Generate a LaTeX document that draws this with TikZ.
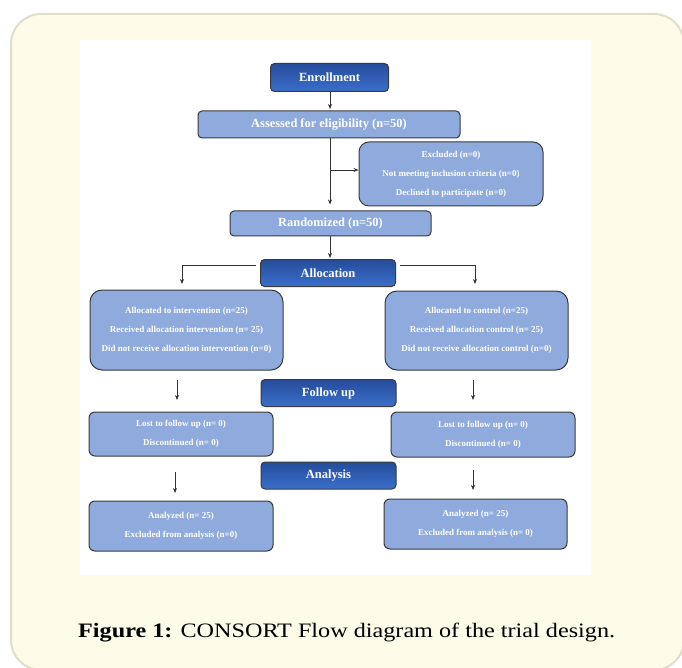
\documentclass[tikz,border=0pt]{standalone}
\usepackage{fontspec}
\setmainfont{Liberation Serif}
\newfontfamily\capfont[FakeStretch=1.18]{Liberation Serif}
\usetikzlibrary{arrows.meta}
\definecolor{cardfill}{HTML}{FEFBE9}
\definecolor{cardline}{HTML}{E0DDC8}
\definecolor{lightblue}{HTML}{8FAADC}
\definecolor{boxline}{HTML}{3A3A3A}
\definecolor{hdrtop}{HTML}{264C9B}
\definecolor{hdrbot}{HTML}{3A6FCB}
\definecolor{connc}{HTML}{333333}
\begin{document}
\begin{tikzpicture}[x=1pt,y=-1pt,
  sz/.style 2 args={minimum width=#1pt, minimum height=#2pt},
  hdr/.style={draw=boxline, line width=1pt, rounded corners=4pt, top color=hdrtop, bottom color=hdrbot, text=white, font=\fontsize{12.5}{14}\selectfont\bfseries, inner sep=0pt},
  lbox/.style={draw=boxline, line width=1pt, fill=lightblue, text=white, inner sep=0pt, align=center},
  bigtxt/.style={font=\fontsize{12.4}{14}\selectfont\bfseries},
  smtxt/.style={font=\fontsize{9}{19}\selectfont\bfseries},
  conn/.style={draw=connc, line width=0.8pt},
  arr/.style={conn, -{Stealth[length=5pt,width=4pt]}},
]
\useasboundingbox (0,0) rectangle (682,668);
\draw[fill=cardfill, draw=cardline, line width=2pt, rounded corners=30pt] (11,14) rectangle (684,670);
\fill[white] (80,40) rectangle (591,575);

% header nodes
\node[hdr, sz={118}{28}] (enr) at (329.5,77.5) {Enrollment};
\node[hdr, sz={135}{27}] (alloc) at (328,273) {Allocation};
\node[hdr, sz={135}{27}] (fol) at (328.5,393) {Follow up};
\node[hdr, sz={135}{27}] (ana) at (328.5,475.5) {Analysis};

% light boxes
\node[lbox, bigtxt, rounded corners=4pt, sz={262}{27}] (ass) at (329,124.5) {Assessed for eligibility (n=50)};
\node[lbox, smtxt, rounded corners=10pt, sz={184}{64}] (excl) at (451,174) {Excluded (n=0)\\Not meeting inclusion criteria (n=0)\\Declined to participate (n=0)};
\node[lbox, bigtxt, rounded corners=4pt, sz={201}{25}] (rand) at (330.5,223.5) {Randomized (n=50)};
\node[lbox, smtxt, rounded corners=12pt, sz={193}{80}] (lalloc) at (186.5,330) {Allocated to intervention (n=25)\\Received allocation intervention (n= 25)\\Did not receive allocation intervention (n=0)};
\node[lbox, smtxt, rounded corners=12pt, sz={183}{79}] (ralloc) at (476.5,330.5) {Allocated to control (n=25)\\Received allocation control (n= 25)\\Did not receive allocation control (n=0)};
\node[lbox, smtxt, rounded corners=6pt, sz={184}{44}] (llost) at (181,434) {Lost to follow up (n= 0)\\Discontinued (n= 0)};
\node[lbox, smtxt, rounded corners=6pt, sz={184}{45}] (rlost) at (483,434.5) {Lost to follow up (n= 0)\\Discontinued (n= 0)};
\node[lbox, smtxt, rounded corners=6pt, sz={184}{50}] (lana) at (181,526) {Analyzed (n= 25)\\Excluded from analysis (n=0)};
\node[lbox, smtxt, rounded corners=6pt, sz={183}{50}] (rana) at (475.5,524) {Analyzed (n= 25)\\Excluded from analysis (n= 0)};

% connectors
\draw[arr, shorten >=1.5pt] (enr.south -| 330,0) -- (ass.north -| 330,0);
\coordinate (br) at (330,170);
\draw[arr, shorten >=6pt] (ass.south -| 330,0) -- (rand.north -| 330,0);
\draw[arr] (br) -- (br -| excl.west);
\draw[arr, shorten >=1pt] (rand.south -| 330,0) -- (alloc.north -| 330,0);
\coordinate (aL) at (256,265);
\coordinate (aLe) at (182,284);
\coordinate (aR) at (400,265);
\coordinate (aRe) at (475,284);
\draw[arr] (aL) -| (aLe);
\draw[arr] (aR) -| (aRe);
\coordinate (fL1) at (177,380); \coordinate (fL2) at (177,400);
\coordinate (fR1) at (473,380); \coordinate (fR2) at (473,400);
\draw[arr] (fL1) -- (fL2);
\draw[arr] (fR1) -- (fR2);
\coordinate (nL1) at (175,472); \coordinate (nL2) at (175,493);
\coordinate (nR1) at (473,470); \coordinate (nR2) at (473,490);
\draw[arr] (nL1) -- (nL2);
\draw[arr] (nR1) -- (nR2);

% caption
\node[anchor=base west, inner sep=0pt, font=\capfont\fontsize{20.5}{24}\selectfont] (cap) at (78,637) {\textbf{Figure 1:} CONSORT Flow diagram of the trial design.};
\end{tikzpicture}
\end{document}
